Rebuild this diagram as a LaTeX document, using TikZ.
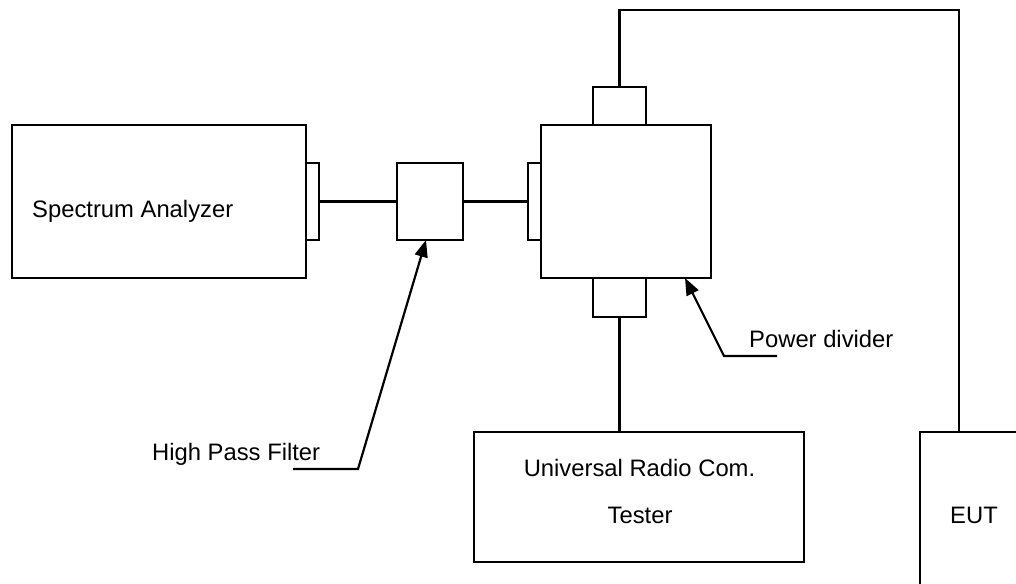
\documentclass[tikz,border=0pt]{standalone}
\usepackage{fontspec}
\setmainfont{Liberation Sans}
\usetikzlibrary{arrows.meta}
\begin{document}
\begin{tikzpicture}[x=1pt,y=-1pt,
  box/.style={draw, line width=2.2pt, inner sep=0pt, outer sep=0pt, rectangle},
  lbl/.style={inner sep=0pt, font=\fontsize{23.8}{28}\selectfont},
  wire/.style={line width=2.2pt},
  pointer/.style={line width=2.2pt, {Triangle[length=17pt,width=13pt]}-}]
\useasboundingbox (0,0) rectangle (1016,583);
\clip (0,0) rectangle (1016,583);
% boxes
\node[box, minimum width=294pt, minimum height=153pt] (sa) at (159,201.5) {};
\node[box, minimum width=13pt, minimum height=77pt] (saport) at (312.5,201.5) {};
\node[box, minimum width=66pt, minimum height=77pt] (hpf) at (430,201.5) {};
\node[box, minimum width=13pt, minimum height=77pt] (pdport) at (534.5,201.5) {};
\node[box, minimum width=170pt, minimum height=153pt] (pd) at (626,201.5) {};
\node[box, minimum width=53pt, minimum height=38pt] (pdtop) at (619.5,106) {};
\node[box, minimum width=53pt, minimum height=39pt] (pdbot) at (619.5,297.5) {};
\node[box, minimum width=330pt, minimum height=130pt] (tester) at (639,497) {};
\node[box, anchor=north west, minimum width=120pt, minimum height=200pt] (eut) at (920,432) {};
% wires
\draw[wire] (saport.east) -- (hpf.west);
\draw[wire] (hpf.east) -- (pdport.west);
\draw[wire] (pdbot.south) -- (pdbot.south |- tester.north);
\coordinate (cornerR) at (959,10);
\draw[wire] (pdtop.north) |- (cornerR) -- (cornerR |- eut.north);
% pointers
\coordinate (hpfknee) at (358,469);
\coordinate (hpftail) at (293,469);
\draw[pointer] ([xshift=-4pt]hpf.south) -- (hpfknee) -- (hpftail);
\coordinate (pdknee) at (724,356);
\coordinate (pdtail) at (777,356);
\draw[pointer] ([xshift=-26pt]pd.south east) -- (pdknee) -- (pdtail);
% labels
\node[lbl, anchor=base west] (salbl) at (32,217) {Spectrum Analyzer};
\node[lbl, anchor=base west] (hpflbl) at (152,460) {High Pass Filter};
\node[lbl, anchor=base west] (pdlbl) at (749,347) {Power divider};
\node[lbl, anchor=base] (testerlbl1) at (639.5,476) {Universal Radio Com.};
\node[lbl, anchor=base] (testerlbl2) at (640,523) {Tester};
\node[lbl, anchor=base west] (eutlbl) at (950,523) {EUT};
\end{tikzpicture}
\end{document}
